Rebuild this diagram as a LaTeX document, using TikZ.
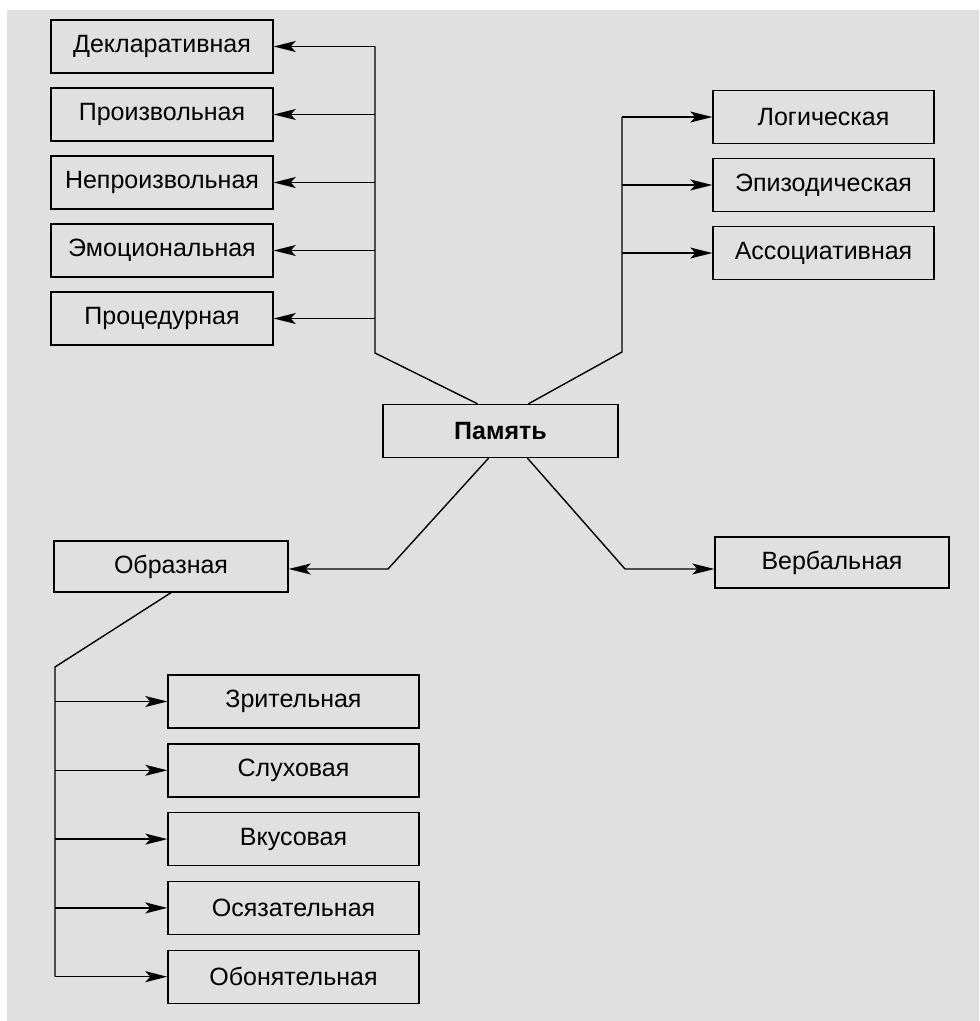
\documentclass[tikz,border=0pt]{standalone}
\usepackage{fontspec}
\setmainfont{Liberation Sans}
\usetikzlibrary{calc}
\usetikzlibrary{positioning}
\usetikzlibrary{arrows.meta}
\definecolor{scan}{RGB}{224,224,224}
\tikzset{kind/.style={draw,line width=0.7pt,inner sep=0pt,minimum height=26.5pt,font=\fontsize{12.5}{14}\selectfont}}
\tikzset{lbox/.style={kind,minimum width=111pt}}
\tikzset{rbox/.style={kind,minimum width=110.5pt}}
\tikzset{bbox/.style={kind,minimum width=125.5pt,node distance=34.4pt}}
\tikzset{mbox/.style={kind,minimum width=117pt,minimum height=25.5pt}}
\tikzset{arr/.style={-{Stealth[length=11pt,width=5.5pt,inset=2.5pt]}}}

\begin{document}
\begin{tikzpicture}[x=0.5pt,y=-0.5pt,line width=0.7pt,node distance=34pt]
      \useasboundingbox (0,0) rectangle (979,1021);
      \fill[scan] (7,10) rectangle (979,1021);
      % upper left group
      \node[lbox] (dekl) at (162,46.5) {Декларативная};
      \node[lbox] (proizv) [below of=dekl] {Произвольная};
      \node[lbox] (neproizv) [below of=proizv] {Непроизвольная};
      \node[lbox] (emoc) [below of=neproizv] {Эмоциональная};
      \node[lbox] (proced) [below of=emoc] {Процедурная};
      % upper right group
      \node[rbox] (logic) at (823.5,117) {Логическая};
      \node[rbox] (epizod) [below of=logic] {Эпизодическая};
      \node[rbox] (assoc) [below of=epizod] {Ассоциативная};
      % centre
      \node[kind,minimum width=117.5pt,font=\fontsize{12.5}{14}\selectfont\bfseries] (pamyat) at (500.5,431) {Память};
      \node[mbox] (obraz) at (171,566.5) {Образная};
      \node[mbox] (verbal) at (832,562.5) {Вербальная};
      % lower group
      \node[bbox] (zrit) at (293.5,701.5) {Зрительная};
      \node[bbox] (sluh) [below of=zrit] {Слуховая};
      \node[bbox] (vkus) [below of=sluh] {Вкусовая};
      \node[bbox] (osyaz) [below of=vkus] {Осязательная};
      \node[bbox] (obon) [below of=osyaz] {Обонятельная};
      \coordinate (lbend) at (375,353);
      \coordinate (rbend) at (622,352);
      \coordinate (lknee) at (388,569);
      \coordinate (rknee) at (625,569);
      \coordinate (bknee) at (55,667);
      \draw (lbend |- dekl) -- (lbend) -- ($(pamyat.north)+(-23,0)$);
      \draw[arr] (lbend |- dekl) -- (dekl);
      \draw[arr] (lbend |- proizv) -- (proizv);
      \draw[arr] (lbend |- neproizv) -- (neproizv);
      \draw[arr] (lbend |- emoc) -- (emoc);
      \draw[arr] (lbend |- proced) -- (proced);
      \draw (rbend |- logic) -- (rbend) -- ($(pamyat.north)+(28,0)$);
      \draw[arr] (rbend |- logic) -- (logic);
      \draw[arr] (rbend |- epizod) -- (epizod);
      \draw[arr] (rbend |- assoc) -- (assoc);
      \draw[arr] ($(pamyat.south)+(-12,0)$) -- (lknee) -- (lknee -| obraz.east);
      \draw[arr] ($(pamyat.south)+(27,0)$) -- (rknee) -- (rknee -| verbal.west);
      \draw (obraz.south) -- (bknee) -- (bknee |- obon);
      \draw[arr] (bknee |- zrit) -- (zrit);
      \draw[arr] (bknee |- sluh) -- (sluh);
      \draw[arr] (bknee |- vkus) -- (vkus);
      \draw[arr] (bknee |- osyaz) -- (osyaz);
      \draw[arr] (bknee |- obon) -- (obon);
    \end{tikzpicture}
\end{document}
